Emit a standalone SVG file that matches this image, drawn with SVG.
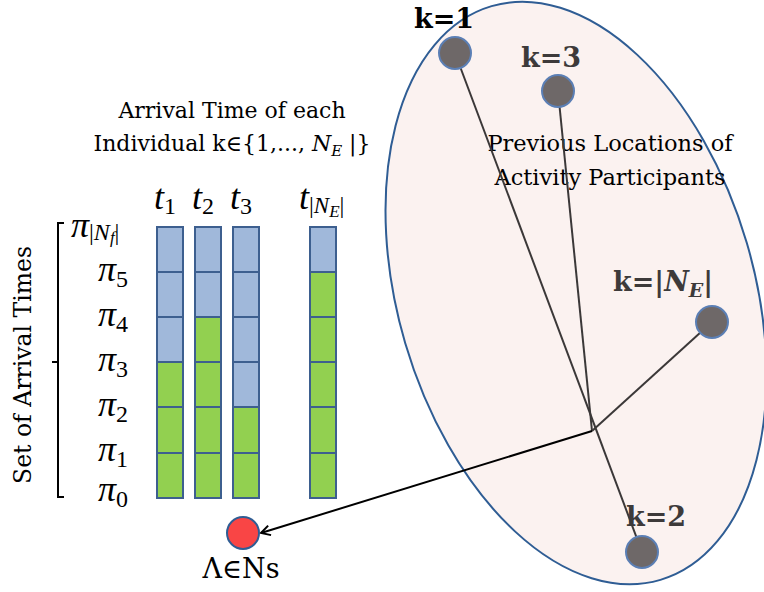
<svg xmlns="http://www.w3.org/2000/svg" width="764" height="592" viewBox="0 0 764 592">
<style>
.serif{font-family:"DejaVu Serif","Liberation Serif",serif;}
.lbl{font-family:"DejaVu Serif","Liberation Serif",serif;font-weight:bold;font-size:27px;}
.b{fill:#a0b8da;stroke:#3d5f8f;stroke-width:2;}
.g{fill:#92d050;stroke:#3d5f8f;stroke-width:2;}
.pt{fill:#6e6868;stroke:#5b7fb5;stroke-width:2;}
.con{stroke:#3b3838;stroke-width:2;fill:none;}
.m{font-family:"Liberation Serif","DejaVu Serif",serif;font-style:italic;font-size:36px;fill:#000;}
.s{font-style:normal;font-size:24px;}
</style>
<defs>
<marker id="arr" markerWidth="12" markerHeight="12" refX="10" refY="6" orient="auto" markerUnits="userSpaceOnUse">
<path d="M1,1 L10,6 L1,11" fill="none" stroke="#000" stroke-width="2"/>
</marker>
</defs>

<g id="region">
<ellipse cx="576" cy="293" rx="178" ry="299" transform="rotate(-16.4 576 293)" fill="#fbf2f0" stroke="#2f5d94" stroke-width="2"/>
<text class="serif" font-size="22.5" text-anchor="middle" x="610" y="151">Previous Locations of</text>
<text class="serif" font-size="22.5" text-anchor="middle" x="610" y="185">Activity Participants</text>
</g>

<g id="connectors">
<line class="con" x1="455" y1="53" x2="642" y2="552"/>
<line class="con" x1="558" y1="91" x2="592" y2="431"/>
<line class="con" x1="712" y1="322" x2="592" y2="431"/>
<line x1="592" y1="431" x2="261" y2="533" stroke="#000" stroke-width="2" marker-end="url(#arr)"/>
</g>

<g id="k1">
<circle class="pt" cx="455" cy="53" r="16"/>
<text class="lbl" x="414" y="28" fill="#000">k=1</text>
</g>
<g id="k3">
<circle class="pt" cx="558" cy="91" r="16"/>
<text class="lbl" x="521" y="67" fill="#3d3a3a">k=3</text>
</g>
<g id="kNE">
<circle class="pt" cx="712" cy="322" r="16"/>
<text class="lbl" x="613" y="291" fill="#3d3a3a">k=|<tspan font-style="italic">N</tspan><tspan font-style="italic" font-size="19" dy="6">E</tspan><tspan dy="-6">|</tspan></text>
</g>
<g id="k2">
<circle class="pt" cx="642" cy="552" r="16"/>
<text class="lbl" x="626" y="526" fill="#3d3a3a">k=2</text>
</g>

<g id="lambda">
<circle cx="243" cy="533" r="16" fill="#f94545" stroke="#2f5d94" stroke-width="2"/>
<text class="serif" font-size="27" text-anchor="middle" x="241" y="578">Λ∈Ns</text>
</g>

<g id="title">
<text class="serif" font-size="22" text-anchor="middle" x="232" y="118">Arrival Time of each</text>
<text class="serif" font-size="22" text-anchor="middle" x="232" y="151">Individual k∈{1,..., <tspan font-style="italic">N</tspan><tspan font-style="italic" font-size="15" dy="5">E</tspan><tspan dy="-5"> |}</tspan></text>
</g>

<g id="col-labels">
<text class="m" x="154" y="209">t<tspan class="s" dy="5">1</tspan></text>
<text class="m" x="192" y="209">t<tspan class="s" dy="5">2</tspan></text>
<text class="m" x="230" y="209">t<tspan class="s" dy="5">3</tspan></text>
<text class="m" x="299" y="209">t<tspan class="s" dy="4">|</tspan><tspan font-size="23">N</tspan><tspan font-size="17" dy="4">E</tspan><tspan class="s" dy="-4">|</tspan></text>
</g>

<g id="row-labels">
<text class="m" x="71" y="237">π<tspan class="s" font-size="26" dy="3">|</tspan><tspan font-size="24">N</tspan><tspan font-size="17" dy="3">f</tspan><tspan class="s" font-size="26" dy="-3">|</tspan></text>
<text class="m" x="98" y="281">π<tspan class="s" dy="6">5</tspan></text>
<text class="m" x="98" y="326">π<tspan class="s" dy="6">4</tspan></text>
<text class="m" x="98" y="371">π<tspan class="s" dy="6">3</tspan></text>
<text class="m" x="98" y="416">π<tspan class="s" dy="6">2</tspan></text>
<text class="m" x="98" y="461">π<tspan class="s" dy="6">1</tspan></text>
<text class="m" x="98" y="501">π<tspan class="s" dy="6">0</tspan></text>
</g>

<g id="bracket">
<path d="M64,223 L58,223 L58,497 L64,497 M58,362 L52,362" fill="none" stroke="#000" stroke-width="2"/>
<text class="serif" font-size="23.5" text-anchor="middle" transform="translate(31 365) rotate(-90)">Set of Arrival Times</text>
</g>

<g id="col1">
<rect class="b" x="157" y="227" width="26" height="45"/>
<rect class="b" x="157" y="272" width="26" height="45"/>
<rect class="b" x="157" y="317" width="26" height="45"/>
<rect class="g" x="157" y="362" width="26" height="45"/>
<rect class="g" x="157" y="407" width="26" height="46"/>
<rect class="g" x="157" y="453" width="26" height="45"/>
</g>
<g id="col2">
<rect class="b" x="195" y="227" width="26" height="45"/>
<rect class="b" x="195" y="272" width="26" height="45"/>
<rect class="g" x="195" y="317" width="26" height="45"/>
<rect class="g" x="195" y="362" width="26" height="45"/>
<rect class="g" x="195" y="407" width="26" height="46"/>
<rect class="g" x="195" y="453" width="26" height="45"/>
</g>
<g id="col3">
<rect class="b" x="233" y="227" width="26" height="45"/>
<rect class="b" x="233" y="272" width="26" height="45"/>
<rect class="b" x="233" y="317" width="26" height="45"/>
<rect class="b" x="233" y="362" width="26" height="45"/>
<rect class="g" x="233" y="407" width="26" height="46"/>
<rect class="g" x="233" y="453" width="26" height="45"/>
</g>
<g id="colNE">
<rect class="b" x="310" y="227" width="26" height="45"/>
<rect class="g" x="310" y="272" width="26" height="45"/>
<rect class="g" x="310" y="317" width="26" height="45"/>
<rect class="g" x="310" y="362" width="26" height="45"/>
<rect class="g" x="310" y="407" width="26" height="46"/>
<rect class="g" x="310" y="453" width="26" height="45"/>
</g>
</svg>
